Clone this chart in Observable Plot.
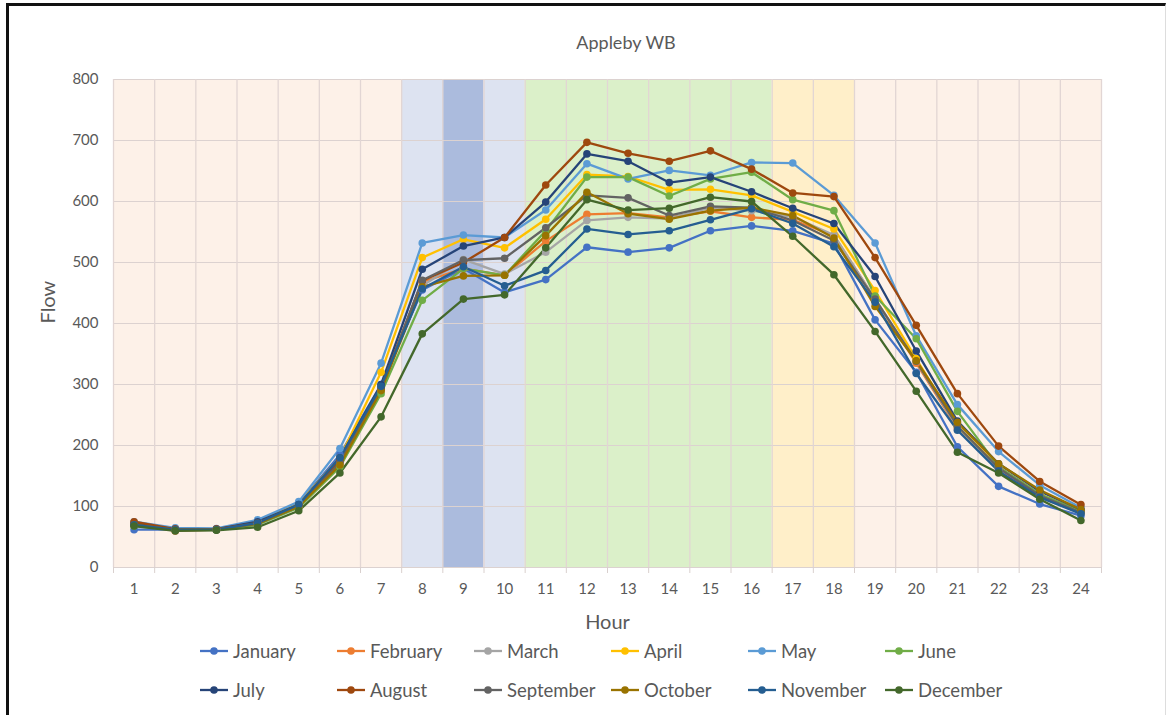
<!DOCTYPE html>
<html>
<head>
<meta charset="utf-8">
<script src="https://cdn.jsdelivr.net/npm/d3@7"></script>
<script src="https://cdn.jsdelivr.net/npm/@observablehq/plot@0.6"></script>
<style>
  html, body { margin: 0; padding: 0; background: #fff; }
  #wrap { position: relative; width: 1172px; height: 715px; overflow: hidden; font-family: Lato, "Open Sans", sans-serif; }
  #frame { position: absolute; left: 6px; top: 3px; width: 1160px; height: 720px; border-top: 3px solid #111; border-left: 3px solid #111; border-right: 1px solid #ddd; box-sizing: border-box; }
  #title { position: absolute; top: 31px; left: 0; width: 1252px; text-align: center; font-size: 18px; color: #595959; }
  #chart { position: absolute; top: 60px; left: 0; }
  #legend { position: absolute; top: 638px; left: 199px; width: 840px; display: grid; grid-template-columns: repeat(6, 137px); row-gap: 13px; }
  .item { display: flex; align-items: center; height: 26px; font-size: 18.5px; color: #595959; white-space: nowrap; }
  .item svg { margin-right: 4px; flex: none; }
</style>
</head>
<body>
<div id="wrap">
  <div id="frame"></div>
  <div id="title">Appleby WB</div>
  <div id="chart"></div>
  <div id="legend"></div>
</div>
<script>
const hours = d3.range(1, 25);
const months = ["January","February","March","April","May","June","July","August","September","October","November","December"];
const monthColors = ["#4472C4","#ED7D31","#A5A5A5","#FFC000","#5B9BD5","#70AD47","#264478","#9E480E","#636363","#997300","#255E91","#43682B"];

const january   = [62,62,62,75,105,185,300,455,490,451,472,525,517,524,552,560,552,531,406,320,198,133,104,85];
const february  = [72,60,62,72,100,170,290,468,490,479,535,579,581,574,584,574,570,544,440,335,228,160,118,90];
const march     = [70,62,62,72,100,172,295,462,505,481,517,569,574,572,590,585,575,545,440,338,230,162,118,90];
const april     = [70,62,63,75,105,180,320,508,538,524,571,644,641,619,620,610,583,555,454,342,232,165,120,92];
const may       = [75,65,64,78,108,195,335,532,545,541,586,662,637,651,643,664,663,610,532,380,267,190,135,98];
const june      = [68,62,62,70,98,165,285,438,490,479,552,640,640,609,637,648,603,585,445,375,256,165,120,92];
const july      = [72,63,63,75,103,180,300,489,527,541,599,678,666,631,640,616,589,564,477,355,240,170,125,95];
const august    = [75,63,63,73,102,175,295,470,500,541,627,697,679,666,683,653,614,608,508,397,285,199,141,103];
const september = [70,62,62,72,100,172,293,471,504,507,557,610,606,577,592,590,569,536,440,338,232,163,118,90];
const october   = [70,62,62,72,100,168,290,460,478,479,544,615,580,571,585,590,577,540,428,339,238,170,127,95];
const november  = [70,62,62,73,103,180,297,457,493,462,487,555,546,552,570,588,564,526,435,318,225,158,115,88];
const december  = [68,60,61,66,93,155,247,383,440,447,524,603,586,589,607,600,543,480,387,289,189,155,112,77];

const series = [january,february,march,april,may,june,july,august,september,october,november,december];

// background period bands (hour ranges)
const bandStart = [0.5, 7.5, 8.5, 9.5, 10.5, 16.5, 18.5];
const bandEnd   = [7.5, 8.5, 9.5, 10.5, 16.5, 18.5, 24.5];
const bandKind  = ["off", "shoulder", "peak", "shoulder", "midday", "evening", "off"];
const bandColors = {off: "#FDF1E8", shoulder: "#DDE3F1", peak: "#ABBBDD", midday: "#DBF0C9", evening: "#FFEFC9"};

const yTicks = d3.range(0, 801, 100);
const boundaries = d3.range(0.5, 25, 1);

const rows = [];
series.forEach((vals, i) => vals.forEach((v, j) => rows.push({month: months[i], hour: hours[j], flow: v})));
const bands = bandStart.map((s, i) => ({x1: s, x2: bandEnd[i], kind: bandKind[i]}));

const plot = Plot.plot({
  width: 1172,
  height: 580,
  marginLeft: 113,
  marginRight: 71,
  marginTop: 19,
  marginBottom: 73,
  style: {fontFamily: "Lato, 'Open Sans', sans-serif", fontSize: "15px", color: "#595959", background: "transparent"},
  x: {domain: [0.5, 24.5], label: null},
  y: {domain: [0, 800], label: null},
  color: {domain: months, range: monthColors},
  marks: [
    Plot.rectY(bands, {x1: "x1", x2: "x2", y1: 0, y2: 800, fill: d => bandColors[d.kind]}),
    Plot.gridY(yTicks, {stroke: "#DCD2D0", strokeOpacity: 1, strokeWidth: 1}),
    Plot.gridX(boundaries, {stroke: "#E2D6D4", strokeOpacity: 1, strokeWidth: 1.3}),
    Plot.axisY(yTicks, {tickSize: 0, tickPadding: 15, fontSize: 15, fill: "#595959"}),
    Plot.axisX(hours, {tickSize: 0, tickPadding: 16, fontSize: 15, fill: "#595959"}),
    Plot.axisX(boundaries, {tickSize: 6, stroke: "#D9D0CE", tickFormat: () => ""}),
    Plot.line(rows, {x: "hour", y: "flow", z: "month", stroke: "month", strokeWidth: 2.3}),
    Plot.dot(rows, {x: "hour", y: "flow", fill: "month", r: 3.8}),
    Plot.text(["Flow"], {frameAnchor: "left", dx: -65, rotate: -90, fontSize: 20, fill: "#595959"}),
    Plot.text(["Hour"], {frameAnchor: "bottom", dy: 61, fontSize: 20, fill: "#595959"})
  ]
});
document.getElementById("chart").appendChild(plot);

const legend = document.getElementById("legend");
months.forEach((m, i) => {
  const item = document.createElement("div");
  item.className = "item";
  const c = monthColors[i];
  item.innerHTML = `<svg width="30" height="12"><line x1="1" y1="6" x2="29" y2="6" stroke="${c}" stroke-width="2.3"/><circle cx="15" cy="6" r="3.8" fill="${c}"/></svg><span>${m}</span>`;
  legend.appendChild(item);
});
</script>
</body>
</html>
